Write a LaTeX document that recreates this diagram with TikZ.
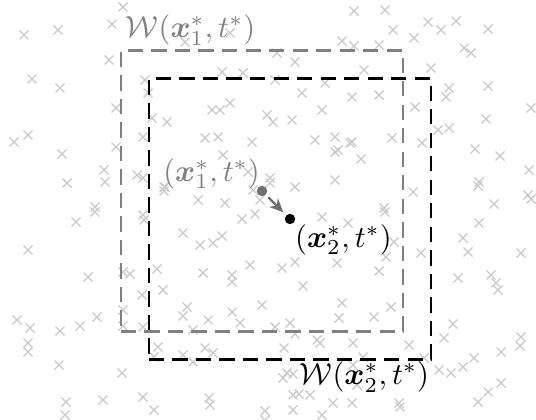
\documentclass[tikz,border=0pt]{standalone}
\usepackage{amsmath,amssymb}
\usepackage{xcolor}
\usetikzlibrary{arrows.meta}

\definecolor{crossgray}{RGB}{200,200,200}
\definecolor{wingray}{RGB}{128,128,128}
\definecolor{dotgray}{RGB}{112,112,112}

\tikzset{
  xcross/.style={draw=crossgray, line width=0.45pt},
  window/.style={draw, line width=0.75pt, dash pattern=on 5pt off 2.7pt, minimum width=3.25cm, minimum height=3.23cm, inner sep=0pt, outer sep=0pt},
  point/.style={circle, fill, inner sep=0pt, minimum size=3.4pt},
}

\begin{document}
\begin{tikzpicture}[x=0.0115cm,y=-0.0115cm]
\useasboundingbox (0,0) rectangle (536,420);
% background samples
\foreach \p in {(123,7),(112,24),(24,35),(58,30),(109,60),(32,79),(60,88),(145,80),(148,93),(116,108),
  (152,118),(167,122),(14,142),(28,135),(143,137),(116,147),(62,154),(104,170),(105,182),(137,175),
  (143,178),(67,183),(164,187),(95,207),(185,42),(230,33),(277,53),(295,62),(222,72),(243,73),
  (275,80),(325,83),(302,93),(352,97),(212,110),(220,110),(230,103),(267,115),(273,122),(292,120),
  (322,110),(205,138),(218,137),(252,142),(315,140),(335,137),(335,152),(352,142),(223,155),(248,172),
  (270,178),(295,187),(335,180),(253,190),(260,200),(198,200),(225,203),(165,187),(270,183),(354,11),
  (342,41),(354,46),(385,10),(393,30),(428,22),(441,30),(456,21),(488,29),(414,38),(379,45),
  (464,48),(471,53),(364,70),(431,68),(449,88),(446,97),(488,86),(379,95),(415,107),(531,108),
  (486,119),(438,130),(449,128),(392,138),(422,143),(361,159),(475,149),(500,156),(529,170),(479,182),
  (478,186),(413,192),(528,195),(531,199),(494,204),(384,208),(350,143),(338,150),
  (242,219),(255,214),(183,233),(200,245),(213,243),(222,236),(322,217),(348,223),(203,273),(232,275),
  (250,265),(282,268),(295,262),(337,263),(303,286),(187,307),(183,316),(208,320),(232,312),(240,323),
  (262,305),(342,303),(339,318),(275,327),(290,323),(295,334),(193,330),(205,348),(213,353),(183,355),
  (317,340),(284,348),(353,343),(193,362),(293,374),(283,378),(353,365),(209,398),(210,405),(265,411),
  (293,410),(299,394),(232,282),(144,220),(164,191),
  (385,212),(479,223),(463,238),(468,252),(421,253),(394,242),(386,257),(521,253),(379,271),(458,278),
  (491,275),(496,283),(498,290),(391,307),(374,317),(453,324),(444,338),(409,345),(521,337),(501,352),
  (474,358),(463,367),(451,373),(439,370),(424,358),(501,383),(488,392),(478,402),(399,403),(363,357),
  (520,346),(76,222),(95,212),(143,215),(28,250),(88,277),(123,272),(130,274),(157,269),(163,290),
  (142,295),(17,320),(30,328),(60,331),(80,326),(97,317),(123,310),(123,326),(143,327),(28,343),
  (28,352),(158,347),(154,357),(59,365),(122,373),(66,402),(65,415),(103,400),(143,397),(154,410),
  (320,343),(287,373),(293,395),(310,395),(352,403),(333,403),(400,407),(322,415),(357,385),(265,420)}
  \draw[xcross] \p +(-4.5,-4.5) -- +(4.5,4.5) \p +(-4.5,4.5) -- +(4.5,-4.5);

% the two points and their windows
\node[point, fill=dotgray] (p1) at (262,191) {};
\node[point, fill=black] (p2) at (290,219) {};
\node[window, draw=wingray] (win1) at (p1) {};
\node[window, draw=black] (win2) at (p2) {};

\draw[-{Stealth[length=4.5pt,width=4pt]}, dotgray, line width=0.7pt, shorten <=1pt, shorten >=1.2pt] (p1) -- (p2);

\node[anchor=south east, inner sep=0.5pt, text=wingray] (lab1) at (p1.center) {$(\boldsymbol{x}_1^*,t^*)$};
\node[anchor=north west, inner sep=1.5pt] (lab2) at (p2.center) {$(\boldsymbol{x}_2^*,t^*)$};
\node[anchor=south west, inner sep=1.5pt, text=wingray] (wlab1) at (win1.north west) {$\mathcal{W}(\boldsymbol{x}_1^*,t^*)$};
\node[anchor=north east, inner sep=0.5pt] (wlab2) at (win2.south east) {$\mathcal{W}(\boldsymbol{x}_2^*,t^*)$};
\end{tikzpicture}
\end{document}
